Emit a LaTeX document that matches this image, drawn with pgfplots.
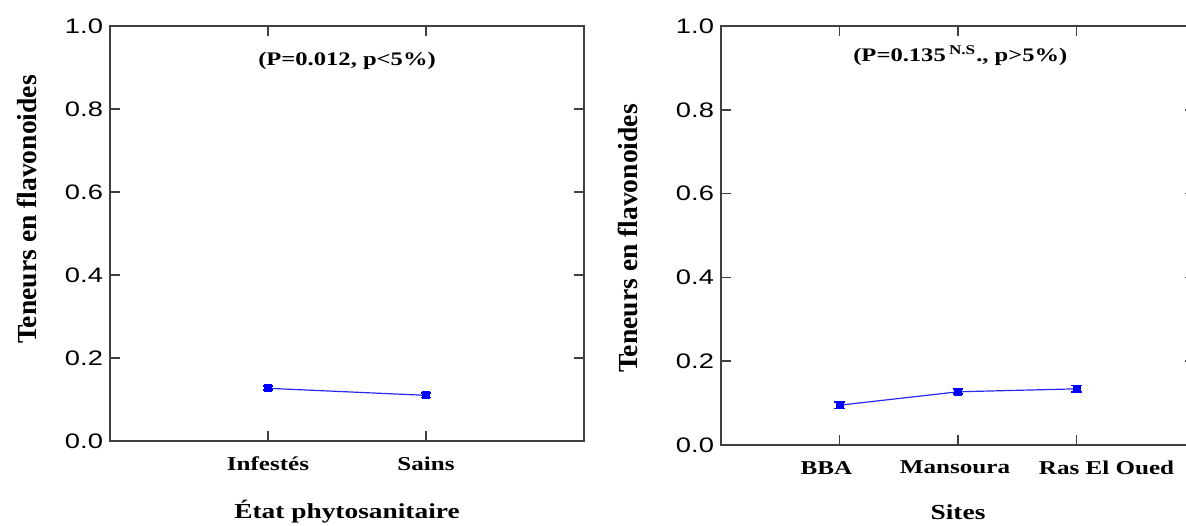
\documentclass[border=0pt]{standalone}
\usepackage{fontspec}
\setmainfont{Liberation Serif}[FakeStretch=1.28]
\newfontfamily\arialst{Liberation Sans}[FakeStretch=1.3]
\newfontfamily\ylabfont{Liberation Serif}
\usepackage{pgfplots}
\pgfplotsset{compat=1.18}
\definecolor{lineblue}{RGB}{40,40,240}
\begin{document}
\begin{tikzpicture}
\useasboundingbox (0,0) rectangle (593pt,262.5pt);
\pgfplotsset{
  myaxis/.style={
    scale only axis,
    width=237pt,
    ymin=0, ymax=1,
    ytick={0,0.2,0.4,0.6,0.8,1.0},
    yticklabel style={/pgf/number format/fixed,/pgf/number format/fixed zerofill,/pgf/number format/precision=1,/pgf/number format/assume math mode=true,font=\fontsize{10.5}{12}\arialst},
    xticklabel style={font=\fontsize{9.8}{12}\selectfont\bfseries, yshift=-4.5pt},
    tick align=inside,
    major tick length=5pt,
    xtick pos=both, ytick pos=both,
    axis line style={line width=0.8pt, black!75},
    every tick/.style={line width=0.8pt, black!75},
    xtick=data,
    clip=false,
  },
  myplot/.style={lineblue, line width=0.6pt, mark=square*, mark size=1.7pt, mark options={blue},
  error bars/.cd, y dir=both, y explicit, error mark options={rotate=90, mark size=2.6pt, blue, line width=0.9pt}, error bar style={blue, line width=1pt}},
}
\begin{axis}[myaxis,
  at={(55pt,42pt)}, anchor=south west,
  height=207.5pt,
  xmin=0, xmax=3,
  xticklabels={Infestés,Sains},
  xlabel={\fontsize{10.7}{12}\selectfont\bfseries État phytosanitaire},
  xlabel style={yshift=-7.5pt},
]
\addplot[myplot]
  coordinates {(1,0.127) +- (0,0.005) (2,0.110) +- (0,0.005)};
\node[font=\fontsize{9.6}{12}\selectfont\bfseries] at (axis cs:1.5,0.915) {(P=0.012, p<5\%)};
\node[xshift=-41.5pt, yshift=12pt, rotate=90, anchor=center, font=\fontsize{13.8}{15}\ylabfont\bfseries] at (rel axis cs:0,0.5) {Teneurs en flavonoides};
\end{axis}
\begin{axis}[myaxis,
  at={(360.5pt,40pt)}, anchor=south west,
  height=209.5pt,
  xmin=0, xmax=4,
  xticklabels={BBA\hspace*{13pt},Mansoura\hspace*{3pt},\hspace*{30pt}Ras El Oued},
  xlabel={\fontsize{10.7}{12}\selectfont\bfseries Sites},
  xlabel style={yshift=-8pt},
]
\addplot[myplot]
  coordinates {(1,0.095) +- (0,0.008) (2,0.127) +- (0,0.006) (3,0.134) +- (0,0.008)};
\node[font=\fontsize{9.6}{12}\selectfont\bfseries] at (axis cs:2.02,0.93) {(P=0.135\,\textsuperscript{N.S}., p>5\%)};
\node[xshift=-46.5pt, yshift=-1.5pt, rotate=90, anchor=center, font=\fontsize{13.8}{15}\ylabfont\bfseries] at (rel axis cs:0,0.5) {Teneurs en flavonoides};
\end{axis}
\end{tikzpicture}
\end{document}
